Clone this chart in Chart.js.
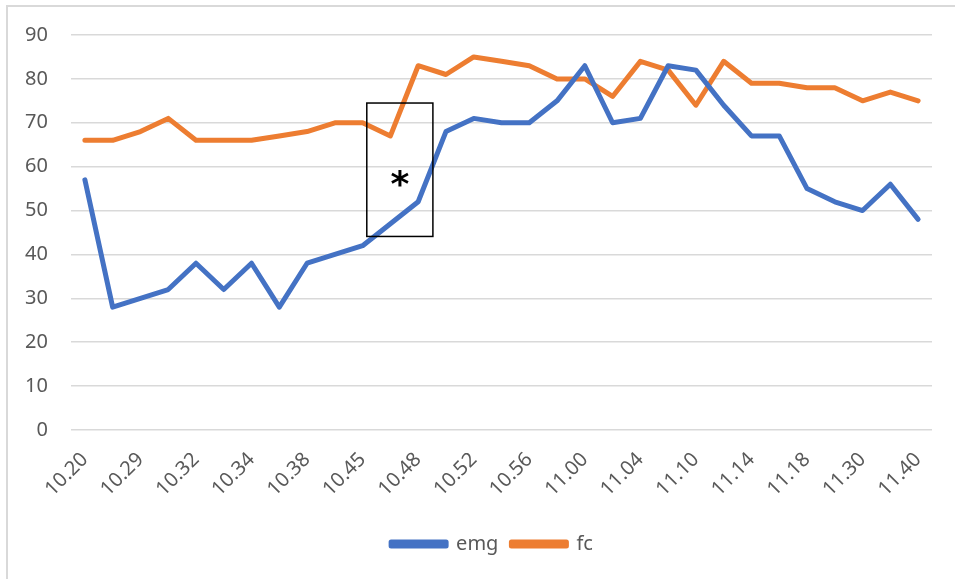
<!DOCTYPE html>
<html>
<head>
<meta charset="utf-8">
<script src="https://cdn.jsdelivr.net/npm/chart.js@4.4.6/dist/chart.umd.min.js"></script>
<style>
  html, body { margin: 0; padding: 0; background: #fff; overflow: hidden; }
  #wrap { position: relative; width: 955px; height: 579px; }
  #frame { position: absolute; left: 6px; top: 5px; width: 1000px; height: 700px;
           border-left: 2px solid #d9d9d9; border-top: 2px solid #d9d9d9; box-sizing: border-box; }
  canvas { position: absolute; left: 0; top: 0; }
</style>
</head>
<body>
<div id="wrap">
  <div id="frame"></div>
  <canvas id="chart" width="955" height="579"></canvas>
</div>
<script>
// time of reading (every second one is printed on the axis)
const times = ['10.20','10.25','10.29','10.30','10.32','10.33','10.34','10.36','10.38','10.40',
               '10.45','10.46','10.48','10.50','10.52','10.54','10.56','10.58','11.00','11.02',
               '11.04','11.07','11.10','11.12','11.14','11.16','11.18','11.24','11.30','11.35','11.40'];
const emg = [57,28,30,32,38,32,38,28,38,40,42,47,52,68,71,70,70,75,83,70,71,83,82,74,67,67,55,52,50,56,48];
const fc  = [66,66,68,71,66,66,66,67,68,70,70,67,83,81,85,84,83,80,80,76,84,82,74,84,79,79,78,78,75,77,75];
const yTicks = [0,10,20,30,40,50,60,70,80,90];

// highlighted interval, in category index / value units
const markBox = { from: 10.15, to: 12.53, low: 44.1, high: 74.5, starX: 11.34, starY: 56.2 };

const axisText = '#595959';
const gridGray = '#d9d9d9';
const font = '"Noto Sans", "Open Sans", sans-serif';

const markPlugin = {
  id: 'markBox',
  afterDatasetsDraw(chart) {
    const { ctx, scales: { x, y } } = chart;
    const x0 = x.getPixelForValue(markBox.from), x1 = x.getPixelForValue(markBox.to);
    const y0 = y.getPixelForValue(markBox.high), y1 = y.getPixelForValue(markBox.low);
    ctx.save();
    ctx.strokeStyle = '#000';
    ctx.lineWidth = 1.5;
    ctx.strokeRect(x0, y0, x1 - x0, y1 - y0);
    ctx.fillStyle = '#000';
    ctx.font = 'bold 36px "DejaVu Sans", sans-serif';
    ctx.textAlign = 'center';
    ctx.textBaseline = 'middle';
    ctx.fillText('*', x.getPixelForValue(markBox.starX), y.getPixelForValue(markBox.starY) + 3);
    ctx.restore();
  }
};

// the legend sits a little right of the canvas centre
const legendShift = {
  id: 'legendShift',
  afterLayout(chart) {
    chart.legend.left += 26;
    chart.legend.right += 26;
  }
};

new Chart(document.getElementById('chart'), {
  type: 'line',
  data: {
    labels: times,
    datasets: [
      { label: 'emg', data: emg, borderColor: '#4472c4', backgroundColor: '#4472c4',
        borderWidth: 5, pointRadius: 0, borderJoinStyle: 'round', borderCapStyle: 'round', tension: 0 },
      { label: 'fc', data: fc, borderColor: '#ed7d31', backgroundColor: '#ed7d31',
        borderWidth: 5, pointRadius: 0, borderJoinStyle: 'round', borderCapStyle: 'round', tension: 0 }
    ]
  },
  options: {
    responsive: false,
    animation: false,
    devicePixelRatio: 1,
    layout: { padding: { left: 0, right: 23, top: 26, bottom: 15 } },
    plugins: {
      legend: {
        position: 'bottom',
        labels: { color: axisText, font: { family: font, size: 20 }, boxWidth: 55, boxHeight: 4, padding: 13 }
      },
      tooltip: { enabled: false }
    },
    scales: {
      x: {
        offset: true,
        afterFit: s => { s.height = 91; },
        grid: { display: false, drawTicks: false },
        border: { display: false },
        ticks: {
          color: axisText, font: { family: font, size: 20 },
          minRotation: 45, maxRotation: 45, autoSkip: false, padding: 18,
          callback: (v, i) => (i % 2 ? null : times[i])
        }
      },
      y: {
        min: 0, max: 90,
        afterBuildTicks: s => { s.ticks = yTicks.map(v => ({ value: v })); },
        afterFit: s => { s.width = 71; },
        grid: { color: gridGray, lineWidth: 1.5, drawTicks: false },
        border: { display: false },
        ticks: { color: axisText, font: { family: font, size: 20 }, padding: 23 }
      }
    }
  },
  plugins: [markPlugin, legendShift]
});
</script>
</body>
</html>
